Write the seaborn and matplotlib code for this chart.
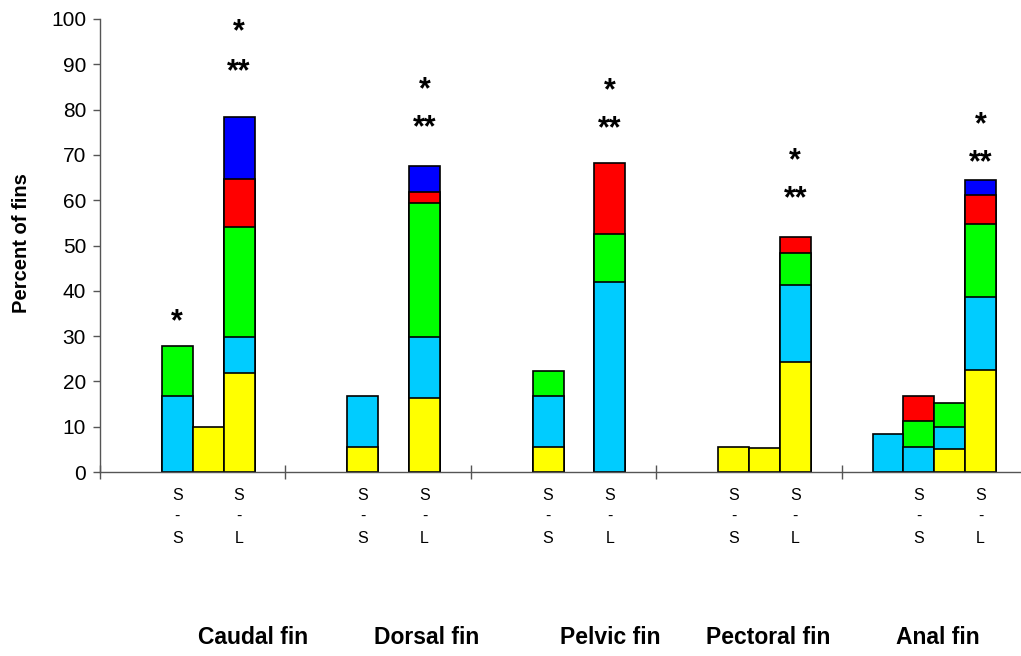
import pandas as pd
import numpy as np
import matplotlib
matplotlib.use("Agg")
import matplotlib.pyplot as plt
import seaborn as sns

# bar slots (30 slots, 6 per fin), only the filled ones listed
slots = [2, 3, 4, 8, 10, 14, 16, 20, 21, 22, 25, 26, 27, 28]

# segment heights, bottom to top
yellow = [0, 9.9, 21.9, 5.5, 16.3, 5.5, 0, 5.5, 5.3, 24.3, 0, 0, 5.1, 22.5]
light_blue = [16.8, 0, 7.9, 11.3, 13.5, 11.3, 41.9, 0, 0, 17.0, 8.3, 5.6, 4.9, 16.1]
green = [11.0, 0, 24.3, 0, 29.6, 5.5, 10.6, 0, 0, 7.0, 0, 5.7, 5.2, 16.1]
red = [0, 0, 10.6, 0, 2.4, 0, 15.7, 0, 0, 3.6, 0, 5.5, 0, 6.5]
blue = [0, 0, 13.7, 0, 5.7, 0, 0, 0, 0, 0, 0, 0, 0, 3.3]

series_names = ["yellow", "light_blue", "green", "red", "blue"]
series_colors = ["#FFFF00", "#00CCFF", "#00FF00", "#FF0000", "#0000FF"]

fins = ["Caudal fin", "Dorsal fin", "Pelvic fin", "Pectoral fin", "Anal fin"]
fin_label_x = [4.45, 10.08, 16.0, 21.12, 26.6]

pair_slots = [2, 4, 8, 10, 14, 16, 20, 22, 26, 28]
pair_top = ["S"] * 10
pair_bottom = ["S", "L"] * 5

# significance marks: (slot, value, text)
marks = [(2, 33.0, "*"),
         (4, 97.0, "*"), (4, 88.2, "**"),
         (10, 84.2, "*"), (10, 75.8, "**"),
         (16, 84.0, "*"), (16, 75.6, "**"),
         (22, 68.5, "*"), (22, 60.1, "**"),
         (28, 76.5, "*"), (28, 68.1, "**")]

sns.set_style("white")
plt.rcParams["font.family"] = ["Liberation Sans", "DejaVu Sans"]
plt.rcParams["text.color"] = "black"
plt.rcParams["ytick.labelcolor"] = "black"

fig = plt.figure(figsize=(10.21, 6.56), dpi=100)
ax = fig.add_axes([100 / 1021, 1 - 472 / 656, 927 / 1021, 453 / 656])

df = pd.DataFrame({"slot": [str(s) for s in slots],
                   "yellow": yellow, "light_blue": light_blue,
                   "green": green, "red": red, "blue": blue})
cum = df[series_names].cumsum(axis=1)
order = [str(i) for i in range(30)]

# draw cumulative totals from the top series down so lower ones sit on top
for name, col in zip(series_names[::-1], series_colors[::-1]):
    seg = df[name] > 0
    d = pd.DataFrame({"slot": df["slot"][seg], "val": cum[name][seg]})
    sns.barplot(data=d, x="slot", y="val", order=order, color=col,
                edgecolor="black", linewidth=1.2, width=1.0,
                saturation=1, errorbar=None, ax=ax)

ax.set_xlim(-0.5, 29.5)
ax.set_ylim(0, 100)
ax.set_xlabel("")
ax.set_ylabel("")
ax.set_yticks(range(0, 101, 10))
ax.tick_params(axis="y", direction="out", length=5, width=1, color="#555555",
               labelsize=15, labelcolor="black", pad=5, left=True)
ax.set_xticks([-0.5, 5.5, 11.5, 17.5, 23.5, 29.5])
ax.set_xticklabels([])
ax.tick_params(axis="x", direction="inout", length=10, width=1, color="#555555", bottom=True)
for s in ["top", "right"]:
    ax.spines[s].set_visible(False)
for s in ["left", "bottom"]:
    ax.spines[s].set_color("#555555")
    ax.spines[s].set_linewidth(1)

tr = ax.get_xaxis_transform()
for x, a, b in zip(pair_slots, pair_top, pair_bottom):
    ax.text(x, -0.051, a, transform=tr, ha="center", va="center", fontsize=11.5)
    ax.text(x, -0.099, "-", transform=tr, ha="center", va="center", fontsize=11.5)
    ax.text(x, -0.146, b, transform=tr, ha="center", va="center", fontsize=11.5)

for x, name in zip(fin_label_x, fins):
    ax.text(x, -0.366, name, transform=tr, ha="center", va="center",
            fontsize=16.5, fontweight="bold")

for x, v, t in marks:
    ax.text(x, v, t, ha="center", va="center", fontsize=22, fontweight="bold")

fig.text(22 / 1021, 1 - 243 / 656, "Percent of fins", rotation=90,
         ha="center", va="center", fontsize=14.5, fontweight="bold")

fig.savefig("out.png", dpi=100)
